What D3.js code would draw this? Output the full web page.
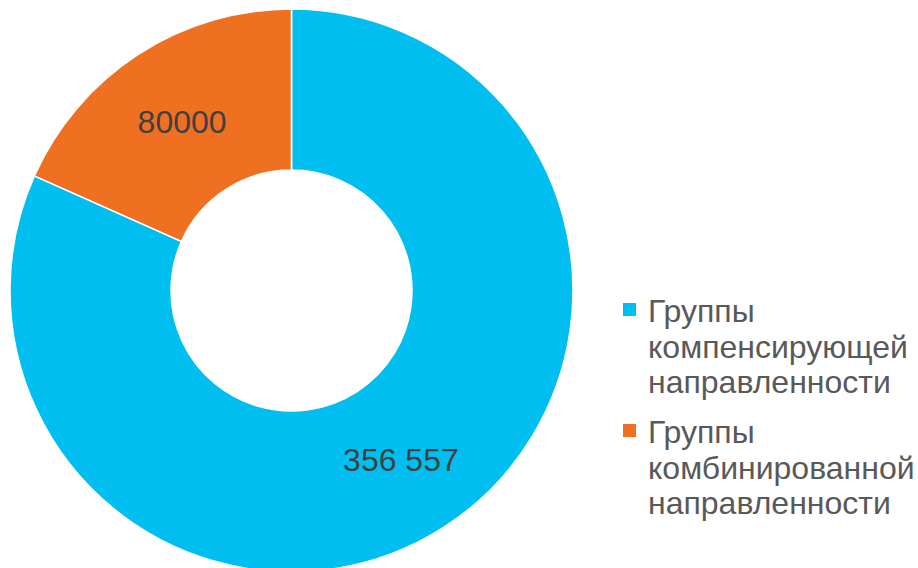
<!DOCTYPE html>
<html>
<head>
<meta charset="utf-8">
<script src="https://cdn.jsdelivr.net/npm/d3@7/dist/d3.min.js"></script>
<style>
  body { margin: 0; background: #ffffff; }
  svg { display: block; font-family: "Liberation Sans", Arial, sans-serif; }
</style>
</head>
<body>
<div id="chart"></div>
<script>
var categories = ["Группы компенсирующей направленности", "Группы комбинированной направленности"];
var legendLines = [
    ["Группы", "компенсирующей", "направленности"],
    ["Группы", "комбинированной", "направленности"]
];
var values = [356557, 80000];
var valueLabels = ["356 557", "80000"];
var colors = ["#00BFF0", "#F07022"];

var width = 918, height = 568;
var cx = 291.5, cy = 290.5;
var outerR = 281.5, innerR = 120.5;

var svg = d3.select("#chart")
    .append("svg")
    .attr("width", width)
    .attr("height", height);

var g = svg.append("g")
    .attr("transform", "translate(" + cx + "," + cy + ")");

var pie = d3.pie().sort(null).value(function (d) { return d; });
var arc = d3.arc().innerRadius(innerR).outerRadius(outerR);

var arcs = pie(values);

g.selectAll(".slice")
    .data(arcs)
    .enter()
    .append("path")
    .attr("class", "slice")
    .attr("d", arc)
    .attr("fill", function (d, i) { return colors[i]; })
    .attr("stroke", "#ffffff")
    .attr("stroke-width", 1.5);

// value labels at the centroid of each slice
g.selectAll(".value-label")
    .data(arcs)
    .enter()
    .append("text")
    .attr("class", "value-label")
    .attr("x", function (d) { return arc.centroid(d)[0]; })
    .attr("y", function (d) { return arc.centroid(d)[1]; })
    .attr("text-anchor", "middle")
    .attr("dy", "0.36em")
    .style("font-size", "32px")
    .style("fill", "#404040")
    .text(function (d, i) { return valueLabels[i]; });

// legend
var legend = svg.append("g").attr("transform", "translate(623,0)");
var lineH = 35.5;
var itemTops = [322, 443];

var items = legend.selectAll(".legend-item")
    .data(categories)
    .enter()
    .append("g")
    .attr("class", "legend-item")
    .attr("transform", function (d, i) { return "translate(0," + itemTops[i] + ")"; });

items.append("rect")
    .attr("x", 0)
    .attr("y", -19)
    .attr("width", 13)
    .attr("height", 13)
    .attr("fill", function (d, i) { return colors[i]; });

items.each(function (d, i) {
    var t = d3.select(this).append("text")
        .attr("x", 25)
        .attr("y", 0)
        .style("font-size", "32px")
        .style("fill", "#595959");
    legendLines[i].forEach(function (line, j) {
        t.append("tspan")
            .attr("x", 25)
            .attr("dy", j === 0 ? 0 : lineH)
            .text(line);
    });
});
</script>
</body>
</html>
